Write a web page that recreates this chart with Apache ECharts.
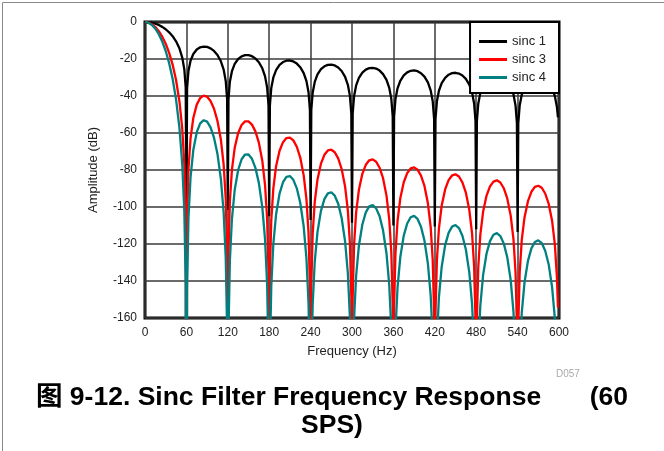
<!DOCTYPE html>
<html>
<head>
<meta charset="utf-8">
<script src="https://cdn.jsdelivr.net/npm/echarts@6/dist/echarts.min.js"></script>
<style>
html,body{margin:0;padding:0;background:#fff;}
#chart{width:664px;height:451px;}
</style>
</head>
<body>
<div id="chart"></div>
<script>
var seriesNames = ['sinc 1', 'sinc 3', 'sinc 4'];
var xTicks = [0, 60, 120, 180, 240, 300, 360, 420, 480, 540, 600];
var yTicks = [0, -20, -40, -60, -80, -100, -120, -140, -160];

var freqHz = [
  0,5,10,15,20,25,30,35,40,45,50,54,57,59,60,
  61,63,66,70,75,80,85,90,95,100,105,110,114,117,119,120,
  121,123,126,130,135,140,145,150,155,160,165,170,174,177,179,180,
  181,183,186,190,195,200,205,210,215,220,225,230,234,237,239,240,
  241,243,246,250,255,260,265,270,275,280,285,290,294,297,299,300,
  301,303,306,310,315,320,325,330,335,340,345,350,354,357,359,360,
  361,363,366,370,375,380,385,390,395,400,405,410,414,417,419,420,
  421,423,426,430,435,440,445,450,455,460,465,470,474,477,479,480,
  481,483,486,490,495,500,505,510,515,520,525,530,534,537,539,540,
  541,543,546,550,555,560,565,570,575,580,585,590,594,597,598.5
];

var sinc1Db = [
  0,-0.10,-0.40,-0.91,-1.65,-2.64,-3.92,-5.56,-7.67,-10.45,-14.38,-19.23,-25.61,-35.42,-110,
  -35.71,-26.48,-20.97,-17.30,-14.89,-13.69,-13.27,-13.47,-14.23,-15.63,-17.81,-21.23,-25.72,-31.85,-41.51,-101.6,
  -41.66,-32.29,-26.59,-22.68,-20.00,-18.55,-17.91,-17.90,-18.49,-19.71,-21.74,-25.01,-29.39,-35.45,-45.06,-105,
  -45.15,-35.74,-29.97,-25.98,-23.19,-21.65,-20.92,-20.82,-21.33,-22.48,-24.43,-27.64,-31.96,-37.99,-47.57,-107,
  -47.64,-38.20,-32.40,-28.36,-25.52,-23.93,-23.15,-23.01,-23.47,-24.57,-26.49,-29.65,-33.95,-39.95,-49.51,-108.5,
  -49.57,-40.12,-34.29,-30.23,-27.36,-25.73,-24.92,-24.75,-25.18,-26.26,-28.15,-31.28,-35.56,-41.54,-51.10,-110,
  -51.15,-41.69,-35.85,-31.76,-28.87,-27.23,-26.39,-26.20,-26.61,-27.67,-29.54,-32.66,-36.92,-42.89,-52.44,-110.6,
  -52.49,-43.02,-37.17,-33.07,-30.16,-28.50,-27.65,-27.44,-27.84,-28.89,-30.74,-33.84,-38.10,-44.06,-53.61,-112,
  -53.64,-44.17,-38.31,-34.20,-31.28,-29.61,-28.75,-28.53,-28.92,-29.95,-31.79,-34.89,-39.13,-45.09,-54.63,-113.5,
  -54.66,-45.19,-39.32,-35.21,-32.28,-30.59,-29.72,-29.50,-29.87,-30.90,-32.73,-35.82,-40.06,-46.01,-51.5
];

var sinc3Db = [
  0,-0.30,-1.20,-2.73,-4.95,-7.92,-11.76,-16.68,-23.01,-31.35,-43.14,-57.69,-76.83,-106.26,-330,
  -107.13,-79.44,-62.91,-51.90,-44.67,-41.07,-39.81,-40.41,-42.69,-46.89,-53.43,-63.69,-77.16,-95.55,-124.53,-305,
  -124.98,-96.87,-79.77,-68.04,-60.00,-55.65,-53.73,-53.70,-55.47,-59.13,-65.22,-75.03,-88.17,-106.35,-135.18,-315,
  -135.45,-107.22,-89.91,-77.94,-69.57,-64.95,-62.76,-62.46,-63.99,-67.44,-73.29,-82.92,-95.88,-113.97,-142.71,-321,
  -142.92,-114.60,-97.20,-85.08,-76.56,-71.79,-69.45,-69.03,-70.41,-73.71,-79.47,-88.95,-101.85,-119.85,-148.53,-325,
  -148.71,-120.36,-102.87,-90.69,-82.08,-77.19,-74.76,-74.25,-75.54,-78.78,-84.45,-93.84,-106.68,-124.62,-153.30,-330,
  -153.45,-125.07,-107.55,-95.28,-86.61,-81.69,-79.17,-78.60,-79.83,-83.01,-88.62,-97.98,-110.76,-128.67,-157.32,-332,
  -157.47,-129.06,-111.51,-99.21,-90.48,-85.50,-82.95,-82.32,-83.52,-86.67,-92.22,-101.52,-114.30,-132.18,-160.83,-336,
  -160.92,-132.51,-114.93,-102.60,-93.84,-88.83,-86.25,-85.59,-86.76,-89.85,-95.37,-104.67,-117.39,-135.27,-163.89,-340,
  -163.98,-135.57,-117.96,-105.63,-96.84,-91.77,-89.16,-88.50,-89.61,-92.70,-98.19,-107.46,-120.18,-138.03,-154.5
];

var sinc4Db = [
  0,-0.40,-1.60,-3.64,-6.60,-10.56,-15.68,-22.24,-30.68,-41.80,-57.52,-76.92,-102.44,-141.68,-440,
  -142.84,-105.92,-83.88,-69.20,-59.56,-54.76,-53.08,-53.88,-56.92,-62.52,-71.24,-84.92,-102.88,-127.40,-166.04,-406,
  -166.64,-129.16,-106.36,-90.72,-80.00,-74.20,-71.64,-71.60,-73.96,-78.84,-86.96,-100.04,-117.56,-141.80,-180.24,-420,
  -180.60,-142.96,-119.88,-103.92,-92.76,-86.60,-83.68,-83.28,-85.32,-89.92,-97.72,-110.56,-127.84,-151.96,-190.28,-428,
  -190.56,-152.80,-129.60,-113.44,-102.08,-95.72,-92.60,-92.04,-93.88,-98.28,-105.96,-118.60,-135.80,-159.80,-198.04,-434,
  -198.28,-160.48,-137.16,-120.92,-109.44,-102.92,-99.68,-99.00,-100.72,-105.04,-112.60,-125.12,-142.24,-166.16,-204.40,-440,
  -204.60,-166.76,-143.40,-127.04,-115.48,-108.92,-105.56,-104.80,-106.44,-110.68,-118.16,-130.64,-147.68,-171.56,-209.76,-442,
  -209.96,-172.08,-148.68,-132.28,-120.64,-114.00,-110.60,-109.76,-111.36,-115.56,-122.96,-135.36,-152.40,-176.24,-214.44,-448,
  -214.56,-176.68,-153.24,-136.80,-125.12,-118.44,-115.00,-114.12,-115.68,-119.80,-127.16,-139.56,-156.52,-180.36,-218.52,-454,
  -218.64,-180.76,-157.28,-140.84,-129.12,-122.36,-118.88,-118.00,-119.48,-123.60,-130.92,-143.28,-160.24,-184.04,-206
];

var seriesValues = [sinc1Db, sinc3Db, sinc4Db];
var seriesColors = ['#000000', '#ff0000', '#008080'];

function pairs(vals) {
  return freqHz.map(function (f, i) { return [f, vals[i]]; });
}

var FONT = '"Liberation Sans", Arial, "Noto Sans CJK SC", sans-serif';
var chart = echarts.init(document.getElementById('chart'), null, {renderer: 'canvas'});

var option = {
  animation: false,
  backgroundColor: '#ffffff',
  textStyle: {fontFamily: FONT},
  grid: {
    left: 145, right: 105, top: 22, bottom: 133,
    show: true, borderColor: '#000', borderWidth: 3, backgroundColor: 'transparent',
    containLabel: false
  },
  legend: {
    data: seriesNames,
    orient: 'vertical',
    right: 105, top: 22,
    backgroundColor: '#fff',
    borderColor: '#000', borderWidth: 2, borderRadius: 0,
    padding: [12, 13, 8, 9],
    icon: 'rect',
    itemWidth: 28, itemHeight: 3, itemGap: 3, itemTextGap: 11,
    textStyle: {fontSize: 13, color: '#222', fontFamily: FONT, lineHeight: 15},
    z: 10
  },
  xAxis: {
    type: 'value', min: xTicks[0], max: xTicks[xTicks.length - 1], interval: 60,
    name: 'Frequency (Hz)', nameLocation: 'middle', nameGap: 27,
    nameTextStyle: {fontSize: 13, color: '#222', fontFamily: FONT},
    axisLine: {show: false}, axisTick: {show: false},
    axisLabel: {fontSize: 12, color: '#222', margin: 9, fontFamily: FONT},
    splitLine: {show: true, lineStyle: {color: '#3a3a3a', width: 1.5}}
  },
  yAxis: {
    type: 'value', min: yTicks[yTicks.length - 1], max: yTicks[0], interval: 20,
    name: 'Amplitude (dB)', nameLocation: 'middle', nameGap: 45,
    nameTextStyle: {fontSize: 13, color: '#222', fontFamily: FONT},
    axisLine: {show: false}, axisTick: {show: false},
    axisLabel: {fontSize: 12, color: '#222', margin: 8, fontFamily: FONT},
    splitLine: {show: true, lineStyle: {color: '#3a3a3a', width: 1.5}}
  },
  series: seriesNames.map(function (name, i) {
    return {
      name: name, type: 'line', symbol: 'none', clip: true, smooth: false,
      data: pairs(seriesValues[i]),
      lineStyle: {color: seriesColors[i], width: 2.3},
      itemStyle: {color: seriesColors[i]},
      z: 2 + i
    };
  }),
  graphic: [
    {type: 'rect', left: 0, top: 0, shape: {x: 0.5, y: 0.5, width: 663, height: 450},
     style: {fill: 'none', stroke: '#888', lineWidth: 1}, silent: true},
    {type: 'text', left: 556, top: 369,
     style: {text: 'D057', fontSize: 10, fill: '#aaa', fontFamily: FONT}},
    {type: 'text', left: 36, top: 384,
     style: {text: '图 9-12. Sinc Filter Frequency Response', fontSize: 26.5, fontWeight: 'bold', fill: '#000', fontFamily: FONT}},
    {type: 'text', right: 36, top: 384,
     style: {text: '(60', fontSize: 26.5, fontWeight: 'bold', fill: '#000', fontFamily: FONT}},
    {type: 'text', left: 'center', top: 412,
     style: {text: 'SPS)', fontSize: 26.5, fontWeight: 'bold', fill: '#000', fontFamily: FONT}}
  ]
};
chart.setOption(option);
</script>
</body>
</html>
